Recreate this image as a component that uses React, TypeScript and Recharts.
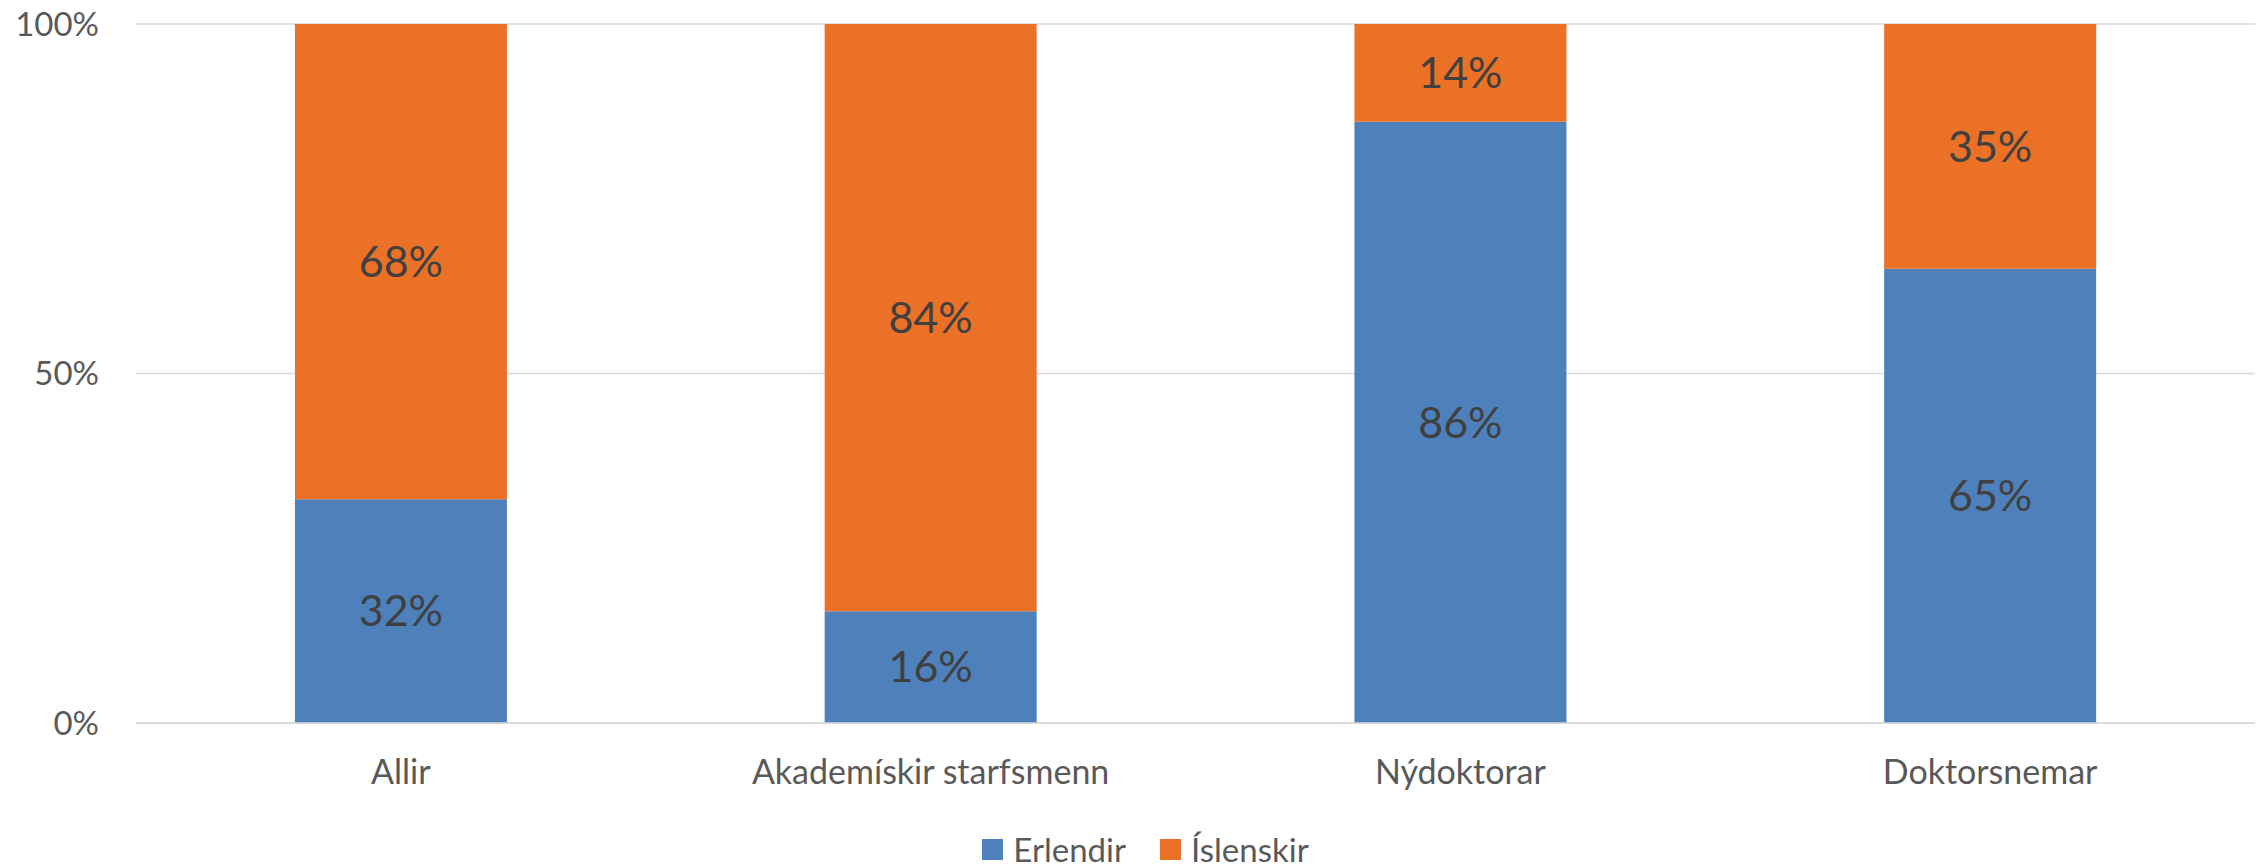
import { BarChart, Bar, XAxis, YAxis, CartesianGrid, Legend, LabelList } from 'recharts';

const categories = ['Allir', 'Akademískir starfsmenn', 'Nýdoktorar', 'Doktorsnemar'];
const erlendir = [32, 16, 86, 65];
const islenskir = [68, 84, 14, 35];
const yTicks = [0, 50, 100];

const BLUE = '#4E80BC';
const ORANGE = '#EB7127';
const FONT = 'Lato, "Open Sans", sans-serif';

const data = categories.map((name, i) => ({
  name,
  Erlendir: erlendir[i],
  Íslenskir: islenskir[i],
}));

function ChartLegend() {
  const items = [
    { label: 'Erlendir', color: BLUE },
    { label: 'Íslenskir', color: ORANGE },
  ];
  return (
    <div style={{ display: 'flex', justifyContent: 'center', alignItems: 'center', gap: 34, height: 34, paddingLeft: 36, fontFamily: FONT }}>
      {items.map(it => (
        <span key={it.label} style={{ display: 'flex', alignItems: 'center', gap: 10 }}>
          <span style={{ width: 21, height: 21, background: it.color, display: 'inline-block' }} />
          <span style={{ fontSize: 33, color: '#595959', lineHeight: '34px' }}>{it.label}</span>
        </span>
      ))}
    </div>
  );
}

export default function App() {
  return (
    <div style={{ position: 'absolute', left: 0, top: 0, width: 2263, height: 866, background: '#fff' }}>
      <BarChart
        width={2263}
        height={866}
        data={data}
        margin={{ top: 24, right: 8, left: 0, bottom: 0 }}
        barCategoryGap="30%"
      >
        <CartesianGrid vertical={false} stroke="#D9D9D9" strokeWidth={1.5} />
        <XAxis
          dataKey="name"
          height={109}
          axisLine={{ stroke: '#D9D9D9', strokeWidth: 1.5 }}
          tickLine={false}
          tickSize={0}
          tickMargin={37}
          tick={{ fontSize: 34, fill: '#595959', fontFamily: FONT }}
        />
        <YAxis
          width={136}
          domain={[0, 100]}
          ticks={yTicks}
          tickFormatter={(v: number) => `${v}%`}
          axisLine={false}
          tickLine={false}
          tickSize={0}
          tickMargin={37}
          tick={{ fontSize: 33, fill: '#595959', fontFamily: FONT }}
        />
        <Legend verticalAlign="bottom" height={34} content={() => <ChartLegend />} />
        <Bar dataKey="Erlendir" stackId="a" fill={BLUE} isAnimationActive={false}>
          <LabelList
            dataKey="Erlendir"
            position="center"
            formatter={(v: number) => `${v}%`}
            style={{ fontSize: 43, fill: '#404040', fontFamily: FONT }}
          />
        </Bar>
        <Bar dataKey="Íslenskir" stackId="a" fill={ORANGE} isAnimationActive={false}>
          <LabelList
            dataKey="Íslenskir"
            position="center"
            formatter={(v: number) => `${v}%`}
            style={{ fontSize: 43, fill: '#404040', fontFamily: FONT }}
          />
        </Bar>
      </BarChart>
    </div>
  );
}
